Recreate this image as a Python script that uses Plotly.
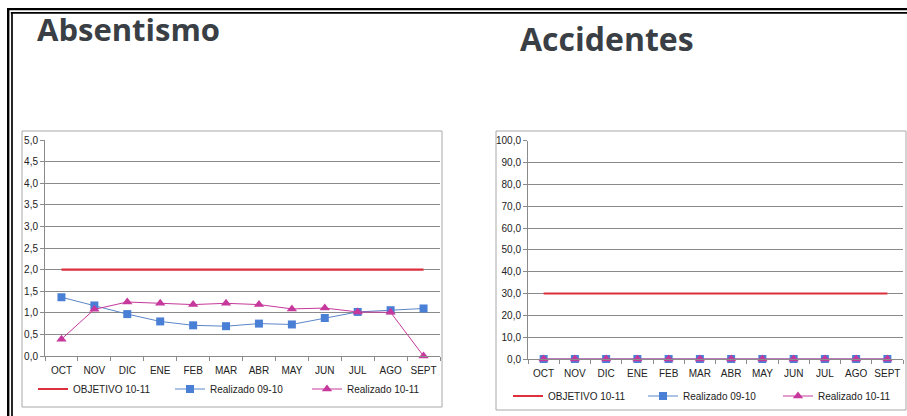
import plotly.graph_objects as go

W, H = 907, 416

months = ["OCT", "NOV", "DIC", "ENE", "FEB", "MAR", "ABR", "MAY", "JUN", "JUL", "AGO", "SEPT"]

# Absentismo
abs_objetivo = [2.0] * 12
abs_real_0910 = [1.36, 1.17, 0.97, 0.80, 0.71, 0.69, 0.75, 0.73, 0.88, 1.02, 1.06, 1.10]
abs_real_1011 = [0.39, 1.08, 1.25, 1.22, 1.19, 1.22, 1.19, 1.09, 1.11, 1.02, 1.01, 0.0]

# Accidentes
acc_objetivo = [30.0] * 12
acc_real_0910 = [0.0] * 12
acc_real_1011 = [0.0] * 12

abs_ticks = [0, 0.5, 1, 1.5, 2, 2.5, 3, 3.5, 4, 4.5, 5]
acc_ticks = [0, 10, 20, 30, 40, 50, 60, 70, 80, 90, 100]

RED = "#de2f3c"
BLUE_LINE = "#5b86c8"
BLUE_MK = "#4a7fd6"
MAG = "#c6389b"
GRID = "#8a8a8a"
TXT = "#222222"


def px(x):
    return x / W


def py(y):
    return 1 - y / H


fig = go.Figure()


def add_series(xa, ya, legend, obj, r1, r2):
    fig.add_trace(go.Scatter(
        x=months, y=obj, xaxis=xa, yaxis=ya, legend=legend,
        name="OBJETIVO 10-11", mode="lines",
        line=dict(color=RED, width=2.2), cliponaxis=False))
    fig.add_trace(go.Scatter(
        x=months, y=r1, xaxis=xa, yaxis=ya, legend=legend,
        name="Realizado 09-10", mode="lines+markers",
        line=dict(color=BLUE_LINE, width=1),
        marker=dict(symbol="square", size=8, color=BLUE_MK), cliponaxis=False))
    fig.add_trace(go.Scatter(
        x=months, y=r2, xaxis=xa, yaxis=ya, legend=legend,
        name="Realizado 10-11", mode="lines+markers",
        line=dict(color=MAG, width=1),
        marker=dict(symbol="triangle-up", size=9, color=MAG), cliponaxis=False))


add_series("x", "y", "legend", abs_objetivo, abs_real_0910, abs_real_1011)
add_series("x2", "y2", "legend2", acc_objetivo, acc_real_0910, acc_real_1011)

xcommon = dict(
    type="category", range=[-0.5, 11.5], tickson="boundaries", tickangle=0,
    ticks="outside", ticklen=4, tickcolor=GRID, showline=True, linecolor=GRID,
    linewidth=1, showgrid=False, zeroline=False, ticklabelstandoff=5,
    tickfont=dict(family="Liberation Sans, Arial, sans-serif", size=10, color=TXT),
)
ycommon = dict(
    ticks="outside", ticklen=4, tickcolor=GRID, showline=True, linecolor=GRID,
    linewidth=1, showgrid=True, gridcolor=GRID, gridwidth=1, zeroline=False,
    tickformat=".1f", tickfont=dict(family="Liberation Sans, Arial, sans-serif", size=10, color=TXT),
)

legend_font = dict(family="Liberation Sans, Arial, sans-serif", size=10, color=TXT)

fig.update_layout(
    width=W, height=H, margin=dict(l=0, r=0, t=0, b=0, autoexpand=False),
    paper_bgcolor="white", plot_bgcolor="white",
    separators=",.",
    xaxis=dict(domain=[px(45), px(440)], anchor="y", **xcommon),
    yaxis=dict(domain=[py(356), py(140)], anchor="x", range=[0, 5], tickvals=abs_ticks, **ycommon),
    xaxis2=dict(domain=[px(528), px(903)], anchor="y2", **xcommon),
    yaxis2=dict(domain=[py(359), py(140.7)], anchor="x2", range=[0, 100], tickvals=acc_ticks, **ycommon),
    legend=dict(orientation="h", x=px(33), y=py(389), xanchor="left", yanchor="middle",
                entrywidth=92, font=legend_font, bgcolor="rgba(0,0,0,0)", itemwidth=30),
    legend2=dict(orientation="h", x=px(508), y=py(396), xanchor="left", yanchor="middle",
                 entrywidth=90, font=legend_font, bgcolor="rgba(0,0,0,0)", itemwidth=30),
    showlegend=True,
)

# Chart area borders
for x0, y0, x1, y1 in [(22, 131, 442, 407), (496, 131, 906, 410)]:
    fig.add_shape(type="rect", xref="paper", yref="paper",
                  x0=px(x0), y0=py(y0), x1=px(x1), y1=py(y1),
                  line=dict(color="#a8a8a8", width=1), layer="below")

# Double black frame along the top and left edges
for off, wdt in [(8.2, 2.4), (12, 1.7)]:
    fig.add_shape(type="line", xref="paper", yref="paper",
                  x0=px(off - 1.2), y0=py(off + 0.9), x1=px(W), y1=py(off + 0.9),
                  line=dict(color="black", width=wdt))
    fig.add_shape(type="line", xref="paper", yref="paper",
                  x0=px(off), y0=py(off), x1=px(off), y1=py(H),
                  line=dict(color="black", width=wdt))

# Panel titles
fig.add_annotation(text="<b>Absentismo</b>", xref="paper", yref="paper",
                   x=px(35), y=py(29), xanchor="left", yanchor="middle", showarrow=False,
                   font=dict(family="Open Sans, sans-serif", size=31, color="#3a3f45"))
fig.add_annotation(text="<b>Accidentes</b>", xref="paper", yref="paper",
                   x=px(518), y=py(38), xanchor="left", yanchor="middle", showarrow=False,
                   font=dict(family="Open Sans, sans-serif", size=32, color="#3a3f45"))

fig.write_html("out.html")
